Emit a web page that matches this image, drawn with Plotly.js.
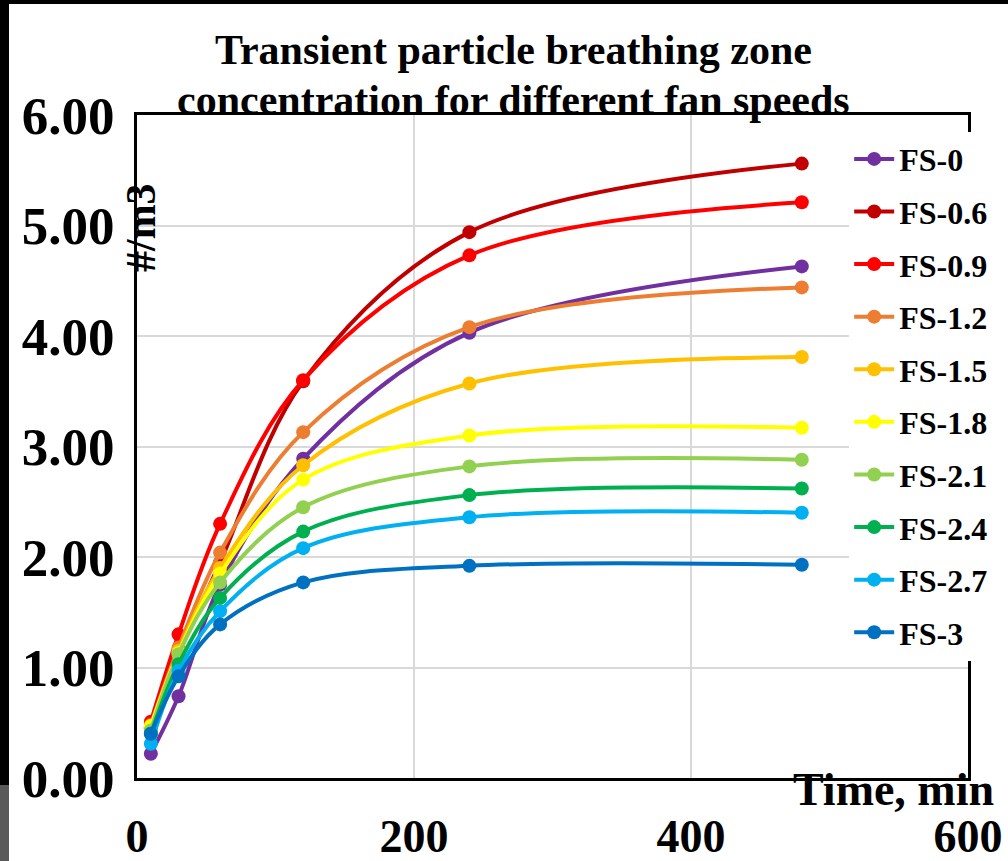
<!DOCTYPE html>
<html>
<head>
<meta charset="utf-8">
<script src="https://cdn.plot.ly/plotly-3.0.1.min.js"></script>
<style>
  html, body { margin: 0; padding: 0; background: #ffffff; }
  #chart { position: absolute; left: 0; top: 0; width: 1008px; height: 861px; }
  .strip { position: absolute; z-index: 10; }
</style>
</head>
<body>
<div id="chart"></div>
<div class="strip" style="left:0;top:0;width:1008px;height:4px;background:#000;"></div>
<div class="strip" style="left:0;top:0;width:9px;height:785px;background:#000;"></div>
<div class="strip" style="left:0;top:785px;width:9px;height:76px;background:#595959;"></div>
<script>
// Time points (min)
const timeMin = [10, 30, 60, 120, 240, 480];

// Series names and values (#/m3)
const seriesNames = ["FS-0", "FS-0.6", "FS-0.9", "FS-1.2", "FS-1.5", "FS-1.8", "FS-2.1", "FS-2.4", "FS-2.7", "FS-3"];
const fs0   = [0.22, 0.74, 1.75, 2.89, 4.03, 4.63];
const fs06  = [0.45, 1.12, 1.95, 3.59, 4.94, 5.56];
const fs09  = [0.51, 1.30, 2.30, 3.60, 4.73, 5.21];
const fs12  = [0.48, 1.18, 2.04, 3.13, 4.08, 4.44];
const fs15  = [0.46, 1.15, 1.90, 2.83, 3.57, 3.81];
const fs18  = [0.47, 1.13, 1.85, 2.70, 3.10, 3.17];
const fs21  = [0.43, 1.12, 1.77, 2.45, 2.82, 2.88];
const fs24  = [0.40, 1.03, 1.63, 2.23, 2.56, 2.62];
const fs27  = [0.31, 0.97, 1.51, 2.08, 2.36, 2.40];
const fs3   = [0.40, 0.92, 1.39, 1.77, 1.92, 1.93];
const seriesValues = [fs0, fs06, fs09, fs12, fs15, fs18, fs21, fs24, fs27, fs3];
const seriesColors = ["#7030A0", "#C00000", "#FF0000", "#ED7D31", "#FFC000", "#FFFF00", "#92D050", "#00B050", "#00B0F0", "#0070C0"];

// Axis ticks and titles
const xTicks = [0, 200, 400, 600];
const yTicks = [0, 1, 2, 3, 4, 5, 6];
const yTickLabels = ["0.00", "1.00", "2.00", "3.00", "4.00", "5.00", "6.00"];
const titleLines = ["Transient particle breathing zone", "concentration for different fan speeds"];

const FONT = "Liberation Serif, Times New Roman, serif";

const traces = seriesNames.map((name, i) => ({
  type: "scatter",
  mode: "lines+markers",
  name: name,
  legendgroup: name,
  x: timeMin,
  y: seriesValues[i],
  line: { color: seriesColors[i], width: 4, shape: "spline", smoothing: 1 },
  marker: { color: seriesColors[i], size: 14 }
}));

const layout = {
  width: 1008,
  height: 861,
  paper_bgcolor: "#ffffff",
  plot_bgcolor: "#ffffff",
  margin: { l: 137, r: 40, t: 115, b: 83 },
  showlegend: true,
  xaxis: {
    range: [0, 600],
    tickvals: xTicks,
    ticktext: xTicks.map(String),
    showgrid: true,
    gridcolor: "#d9d9d9",
    gridwidth: 2,
    zeroline: false,
    showline: true,
    linecolor: "#000",
    linewidth: 3,
    mirror: true,
    ticks: "",
    ticklabelstandoff: 16,
    tickfont: { family: FONT, size: 46, color: "#000", weight: "bold" }
  },
  yaxis: {
    range: [0, 6],
    tickvals: yTicks,
    ticktext: yTickLabels,
    showgrid: true,
    gridcolor: "#d9d9d9",
    gridwidth: 2,
    zeroline: false,
    showline: true,
    linecolor: "#000",
    linewidth: 3,
    mirror: true,
    ticks: "",
    ticklabelstandoff: 9,
    tickfont: { family: FONT, size: 53, color: "#000", weight: "bold" }
  },
  legend: {
    x: 0.857, xanchor: "left",
    y: 0.975, yanchor: "top",
    bgcolor: "#ffffff",
    font: { family: FONT, size: 32, color: "#000", weight: "bold" },
    tracegroupgap: 8,
    itemwidth: 40
  },
  annotations: [
    {
      text: "<b>" + titleLines[0] + "</b>",
      xref: "paper", yref: "paper",
      x: 0.453, y: 1.098,
      xanchor: "center", yanchor: "middle",
      showarrow: false,
      font: { family: FONT, size: 42, color: "#000" }
    },
    {
      text: "<b>" + titleLines[1] + "</b>",
      xref: "paper", yref: "paper",
      x: 0.453, y: 1.0226,
      xanchor: "center", yanchor: "middle",
      showarrow: false,
      font: { family: FONT, size: 42, color: "#000" }
    },
    {
      text: "<b>#/m3</b>",
      xref: "paper", yref: "paper",
      x: 0.004, y: 0.83,
      xanchor: "center", yanchor: "middle",
      textangle: -90,
      showarrow: false,
      font: { family: FONT, size: 42, color: "#000" }
    },
    {
      text: "<b>Time, min</b>",
      xref: "paper", yref: "paper",
      x: 1.034, y: -0.018,
      xanchor: "right", yanchor: "middle",
      showarrow: false,
      font: { family: FONT, size: 46, color: "#000" }
    }
  ]
};

Plotly.newPlot("chart", traces, layout, { displayModeBar: false, staticPlot: true });
</script>
</body>
</html>
